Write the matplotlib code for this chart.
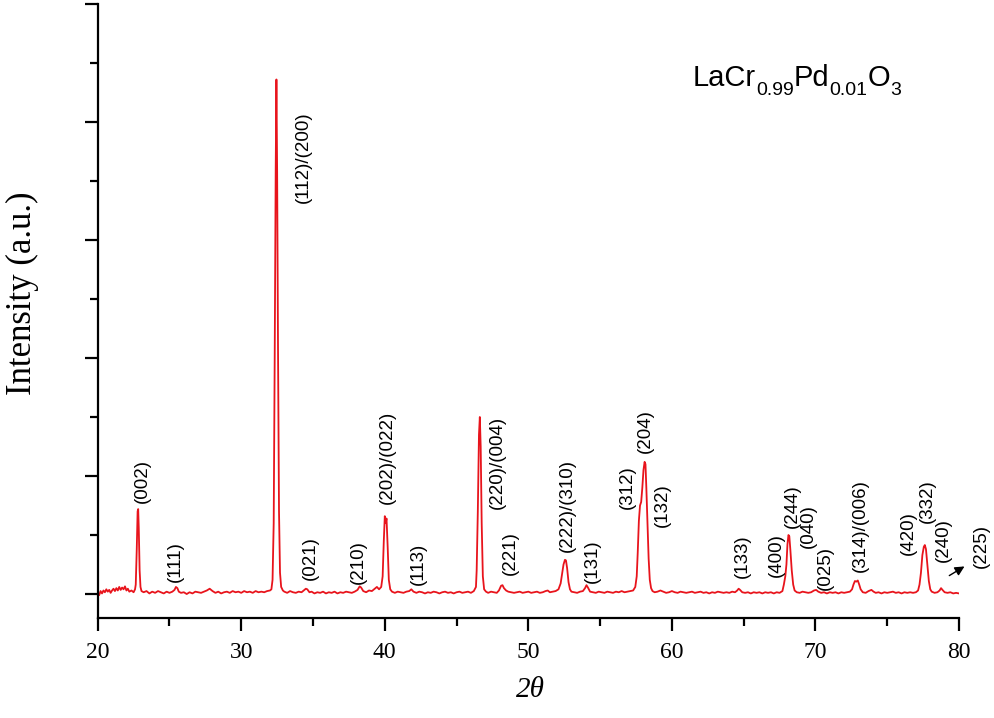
import matplotlib
matplotlib.use("Agg")
import matplotlib.pyplot as plt
from matplotlib.transforms import IdentityTransform
import numpy as np

# XRD trace (2theta in degrees, intensity in counts)
trace = [
    (20.0, 10), (20.1, -10), (20.2, 25), (20.3, 5), (20.4, 30), (20.5, 15), (20.6, 40),
    (20.7, 20), (20.8, 35), (20.9, 10), (21.0, 30), (21.1, 45), (21.2, 25), (21.3, 50),
    (21.4, 30), (21.5, 60), (21.6, 35), (21.7, 55), (21.8, 40), (21.9, 65), (22.0, 30),
    (22.1, 45), (22.2, 20), (22.35, 30), (22.5, 15), (22.6, 40),
    (22.65, 80), (22.72, 380), (22.78, 700), (22.82, 720), (22.86, 560), (22.92, 200),
    (22.98, 60), (23.05, 25),
    (23.2, 15), (23.4, 25), (23.6, 5), (23.8, 20), (24.0, 10), (24.2, 25), (24.4, 15),
    (24.6, 5), (24.8, 20), (25.0, 10), (25.2, 20), (25.35, 35), (25.45, 60), (25.55, 50),
    (25.65, 20), (25.8, 10), (26.0, 15), (26.2, 0), (26.4, 15), (26.6, 5), (26.8, 20),
    (27.0, 15), (27.2, 10), (27.4, 20), (27.6, 30), (27.8, 45), (28.0, 25), (28.2, 10),
    (28.4, 20), (28.6, 5), (28.8, 15), (29.0, 20), (29.2, 10), (29.4, 25), (29.6, 15),
    (29.8, 20), (30.0, 10), (30.2, 25), (30.4, 15), (30.6, 20), (30.8, 10), (31.0, 25),
    (31.2, 15), (31.4, 20), (31.6, 15), (31.8, 25), (32.0, 30),
    (32.1, 40), (32.18, 120), (32.26, 600), (32.33, 2000), (32.4, 3600), (32.45, 4360),
    (32.5, 3580), (32.56, 2100), (32.63, 700), (32.7, 180), (32.78, 60), (32.9, 30),
    (33.0, 20), (33.2, 10), (33.4, 25), (33.6, 15), (33.8, 10), (34.0, 20), (34.2, 15),
    (34.4, 35), (34.5, 45), (34.6, 40), (34.75, 15), (34.9, 20), (35.1, 5), (35.3, 15),
    (35.5, 10), (35.7, 20), (35.9, 5), (36.1, 15), (36.3, 10), (36.5, 20), (36.7, 5),
    (36.9, 15), (37.1, 10), (37.3, 20), (37.5, 15), (37.7, 10), (37.9, 20), (38.1, 35),
    (38.25, 65), (38.35, 55), (38.5, 25), (38.7, 15), (38.9, 30), (39.1, 25), (39.3, 45),
    (39.45, 60), (39.6, 40), (39.75, 60),
    (39.85, 150), (39.93, 450), (40.0, 660), (40.06, 600), (40.12, 640), (40.2, 400),
    (40.28, 120), (40.38, 40), (40.5, 20),
    (40.7, 10), (40.9, 20), (41.1, 15), (41.3, 10), (41.5, 20), (41.7, 25), (41.85, 40),
    (42.0, 20), (42.2, 10), (42.4, 20), (42.6, 15), (42.8, 5), (43.0, 15), (43.2, 10),
    (43.4, 20), (43.6, 15), (43.8, 5), (44.0, 15), (44.2, 20), (44.4, 10), (44.6, 15),
    (44.8, 5), (45.0, 15), (45.2, 20), (45.4, 10), (45.6, 15), (45.8, 20), (46.0, 10),
    (46.2, 25), (46.35, 60),
    (46.4, 200), (46.48, 700), (46.56, 1350), (46.62, 1500), (46.68, 1250), (46.75, 600),
    (46.83, 150), (46.92, 40), (47.05, 20),
    (47.2, 10), (47.4, 20), (47.6, 15), (47.8, 10), (47.95, 30), (48.1, 70), (48.2, 75),
    (48.3, 50), (48.45, 30), (48.6, 20), (48.8, 15), (49.0, 10), (49.2, 15), (49.4, 20),
    (49.6, 10), (49.8, 15), (50.0, 20), (50.2, 10), (50.4, 15), (50.6, 20), (50.8, 10),
    (51.0, 15), (51.2, 25), (51.35, 30), (51.5, 15), (51.7, 20), (51.9, 25), (52.1, 40),
    (52.25, 90),
    (52.35, 170), (52.45, 250), (52.55, 290), (52.62, 285), (52.7, 220), (52.8, 100),
    (52.9, 40), (53.0, 20),
    (53.2, 15), (53.4, 10), (53.6, 20), (53.8, 25), (53.95, 50), (54.05, 75), (54.15, 55),
    (54.3, 20), (54.5, 15), (54.7, 10), (54.9, 20), (55.1, 15), (55.3, 10), (55.5, 20),
    (55.7, 15), (55.9, 10), (56.1, 20), (56.3, 15), (56.5, 25), (56.7, 15), (56.9, 20),
    (57.1, 25), (57.3, 30), (57.45, 60), (57.55, 150),
    (57.62, 350), (57.7, 620), (57.78, 750), (57.86, 780), (57.94, 900), (58.02, 1050),
    (58.1, 1120), (58.16, 1100), (58.22, 900), (58.3, 600), (58.38, 300), (58.46, 120),
    (58.55, 50), (58.65, 25),
    (58.8, 15), (59.0, 20), (59.2, 30), (59.4, 20), (59.6, 10), (59.8, 15), (60.0, 25),
    (60.2, 15), (60.4, 10), (60.6, 20), (60.8, 15), (61.0, 10), (61.2, 15), (61.4, 20),
    (61.6, 10), (61.8, 15), (62.0, 20), (62.2, 10), (62.4, 15), (62.6, 5), (62.8, 15),
    (63.0, 10), (63.2, 20), (63.4, 15), (63.6, 10), (63.8, 15), (64.0, 10), (64.2, 20),
    (64.4, 15), (64.55, 30), (64.65, 45), (64.75, 35), (64.9, 15), (65.1, 10), (65.3, 15),
    (65.5, 5), (65.7, 15), (65.9, 10), (66.1, 15), (66.3, 5), (66.5, 15), (66.7, 10),
    (66.9, 15), (67.1, 5), (67.3, 15), (67.5, 10), (67.7, 25),
    (67.8, 80), (67.9, 150), (67.98, 250), (68.05, 420), (68.12, 500), (68.18, 490),
    (68.25, 380), (68.35, 200), (68.45, 80), (68.55, 30), (68.7, 15),
    (68.9, 10), (69.1, 20), (69.3, 15), (69.5, 10), (69.7, 15), (69.9, 30), (70.05, 35),
    (70.2, 20), (70.4, 10), (70.6, 15), (70.8, 5), (71.0, 15), (71.2, 10), (71.4, 15),
    (71.6, 5), (71.8, 15), (72.0, 10), (72.2, 15), (72.4, 20), (72.55, 40),
    (72.65, 80), (72.75, 110), (72.85, 105), (72.95, 115), (73.05, 80), (73.15, 40),
    (73.3, 15),
    (73.5, 10), (73.7, 25), (73.9, 35), (74.05, 20), (74.2, 10), (74.4, 15), (74.6, 5),
    (74.8, 15), (75.0, 10), (75.2, 15), (75.4, 20), (75.6, 10), (75.8, 15), (76.0, 5),
    (76.2, 15), (76.4, 10), (76.6, 15), (76.8, 10), (77.0, 15), (77.15, 30), (77.25, 80),
    (77.35, 180), (77.45, 330), (77.55, 400), (77.62, 415), (77.7, 380), (77.8, 250),
    (77.9, 110), (78.0, 40), (78.1, 20),
    (78.3, 10), (78.5, 15), (78.65, 30), (78.75, 50), (78.85, 35), (79.0, 15), (79.2, 10),
    (79.4, 15), (79.6, 5), (79.8, 10), (80.0, 5),
]
two_theta = np.array([p[0] for p in trace])
intensity = np.array([p[1] for p in trace])

# reflection labels and where they sit (2theta, intensity at bottom of text)
hkl_labels = ["(002)", "(111)", "(112)/(200)", "(021)", "(210)", "(202)/(022)", "(113)",
              "(220)/(004)", "(221)", "(222)/(310)", "(131)", "(312)", "(204)", "(132)",
              "(133)", "(400)", "(244)", "(040)", "(025)", "(314)/(006)", "(420)", "(332)",
              "(240)", "(225)"]
label_x = [23.09, 25.38, 34.30, 34.79, 38.13, 40.15, 42.31, 47.82, 48.72, 52.69, 54.43,
           56.87, 58.12, 59.31, 64.88, 67.25, 68.37, 69.50, 70.66, 73.10, 76.45, 77.77,
           78.88, 81.54]
label_y = [771, 102, 3314, 119, 85, 763, 76, 720, 161, 356, 93, 720, 1195, 568, 136, 144,
           559, 390, 34, 186, 331, 602, 271, 220]

# sample name pieces: (text, font size, baseline shift in px)
formula = [("LaCr", 21, 0), ("0.99", 14, -9), ("Pd", 21, 0), ("0.01", 14, -9),
           ("O", 21, 0), ("3", 14, -9)]

fig = plt.figure(figsize=(9.95, 7.18), dpi=100)
ax = fig.add_axes([0.0982, 0.1393, 0.8656, 0.8552])

ax.plot(two_theta, intensity, color="#e8141c", lw=1.3)

ax.set_xlim(20, 80)
ax.set_ylim(-203, 5000)
ax.set_xticks(np.arange(20, 81, 10))
ax.set_xticks(np.arange(25, 80, 10), minor=True)
ax.set_yticks(np.arange(0, 5001, 1000))
ax.set_yticks(np.arange(500, 5000, 1000), minor=True)
ax.set_yticklabels([])

for side in ["top", "right"]:
    ax.spines[side].set_visible(False)
for side in ["left", "bottom"]:
    ax.spines[side].set_linewidth(1.6)

ax.tick_params(axis="both", which="major", direction="out", width=1.6, length=9.5)
ax.tick_params(axis="both", which="minor", direction="out", width=1.6, length=5.5)
ax.tick_params(axis="x", pad=8)
for lab in ax.get_xticklabels():
    lab.set_family("Liberation Serif")
    lab.set_fontsize(17)

for txt, x, y in zip(hkl_labels, label_x, label_y):
    ax.text(x, y, txt, rotation=90, ha="center", va="bottom",
            fontsize=13.5, family="Liberation Sans", clip_on=False)

ax.annotate("", xy=(80.55, 246), xytext=(79.16, 144),
            arrowprops=dict(arrowstyle="-|>", color="black", lw=1, mutation_scale=14),
            annotation_clip=False)

# sample name, laid out piece by piece so the subscripts sit low like the original
renderer = fig.canvas.get_renderer()
px, py = ax.transData.transform((61.47, 4305))
for s, size, dy in formula:
    t = fig.text(px, py + dy, s, transform=IdentityTransform(), fontsize=size,
                 family="Liberation Sans", va="baseline", ha="left")
    px += t.get_window_extent(renderer).width

fig.text(22 / 995, 1 - 293 / 718, "Intensity (a.u.)", rotation=90, ha="center",
         va="center", fontsize=25, family="Liberation Serif")
fig.text(530 / 995, 1 - 690 / 718, "2θ", ha="center", va="center", fontsize=21,
         family="Liberation Serif", style="italic")

fig.savefig("out.png", dpi=100)
